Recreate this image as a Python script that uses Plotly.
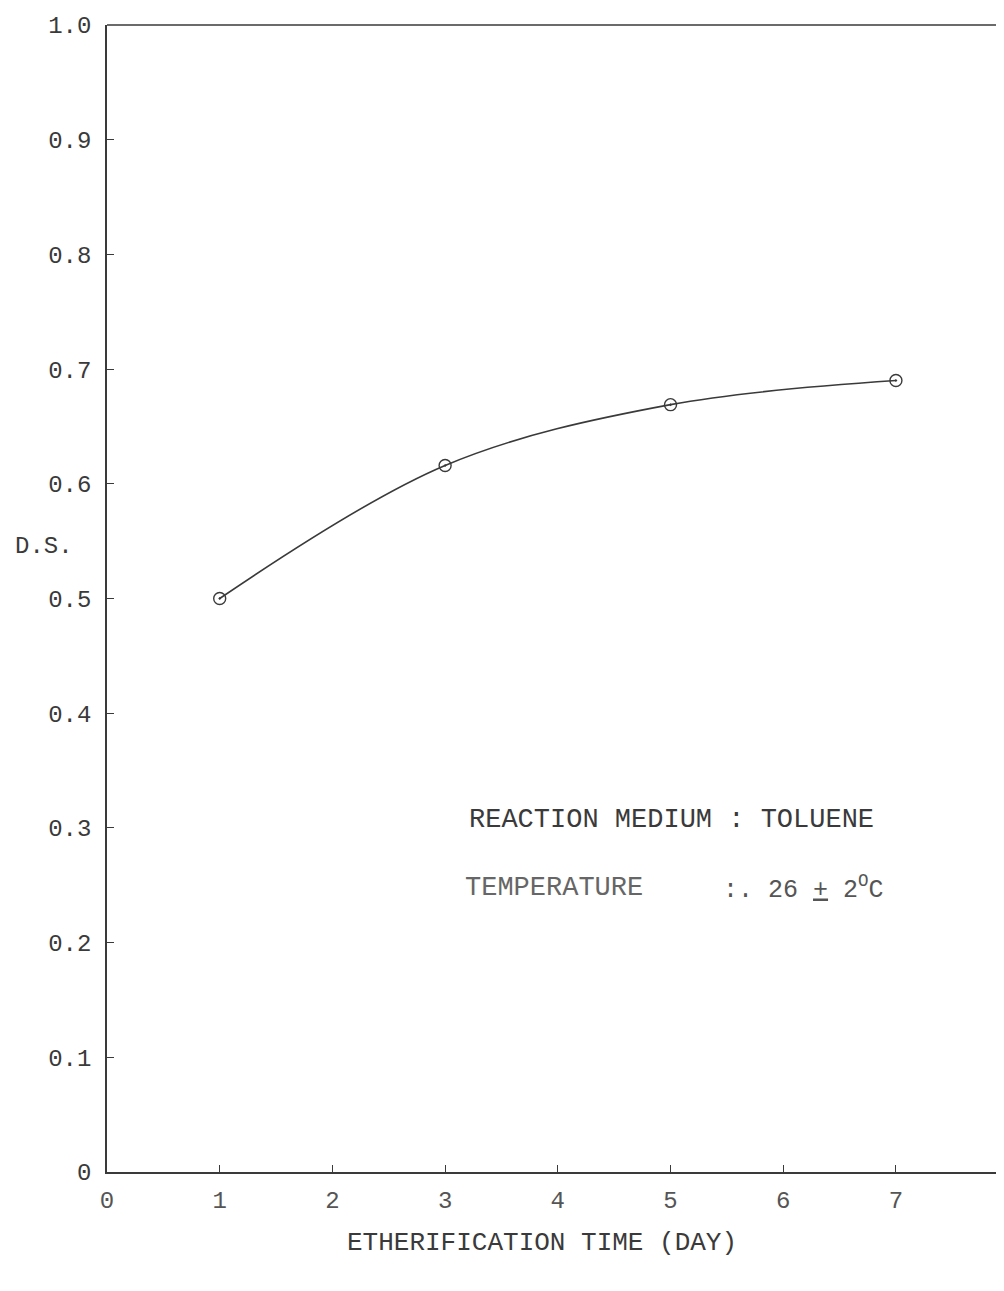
import plotly.graph_objects as go

days = [1, 3, 5, 7]
ds_values = [0.50, 0.616, 0.669, 0.690]

x_tickvals = [0, 1, 2, 3, 4, 5, 6, 7]
x_ticktext = ["0", "1", "2", "3", "4", "5", "6", "7"]
y_tickvals = [0, 0.1, 0.2, 0.3, 0.4, 0.5, 0.6, 0.7, 0.8, 0.9, 1.0]
y_ticktext = ["0", "0.1", "0.2", "0.3", "0.4", "0.5", "0.6", "0.7", "0.8", "0.9", "1.0"]

ink = "#3a3a3a"
mono = "Liberation Mono, Courier New, monospace"

fig = go.Figure()
fig.add_trace(go.Scatter(
    x=days, y=ds_values, mode="lines+markers",
    line=dict(color=ink, width=1.6, shape="spline", smoothing=1.0),
    marker=dict(symbol="circle-open-dot", size=12, color=ink, line=dict(width=1.4, color=ink)),
    showlegend=False,
))

fig.update_layout(
    width=996, height=1275,
    margin=dict(l=99, r=1, t=17, b=111),
    paper_bgcolor="white", plot_bgcolor="white",
    font=dict(family=mono, color=ink),
    xaxis=dict(range=[0, 7.95], tickvals=x_tickvals, ticktext=x_ticktext,
               showgrid=False, zeroline=False, showline=True, linecolor=ink, linewidth=1.5,
               ticks="inside", ticklen=7, tickcolor=ink, tickwidth=1,
               tickfont=dict(family=mono, size=24, color="#555"), ticklabelstandoff=5),
    yaxis=dict(range=[0, 1.0], tickvals=y_tickvals, ticktext=y_ticktext,
               showgrid=False, zeroline=False, showline=True, linecolor=ink, linewidth=1.5,
               ticks="inside", ticklen=7, tickcolor=ink, tickwidth=1,
               tickfont=dict(family=mono, size=24, color=ink), ticklabelstandoff=9),
)

# top border line
fig.add_shape(type="line", xref="paper", yref="paper", x0=0, x1=1, y0=1, y1=1,
              line=dict(color=ink, width=1.5))

fig.add_annotation(text="D.S.", xref="paper", yref="paper", x=-0.105, y=0.545,
                   xanchor="left", yanchor="middle", showarrow=False,
                   font=dict(family=mono, size=24, color=ink))
fig.add_annotation(text="ETHERIFICATION TIME (DAY)", xref="paper", yref="paper",
                   x=0.485, y=-0.062, xanchor="center", yanchor="middle", showarrow=False,
                   font=dict(family=mono, size=26, color=ink))
fig.add_annotation(text="REACTION MEDIUM : TOLUENE", xref="x", yref="y",
                   x=3.19, y=0.307, xanchor="left", yanchor="middle", showarrow=False,
                   font=dict(family=mono, size=27, color=ink))
fig.add_annotation(text="TEMPERATURE", xref="x", yref="y",
                   x=3.16, y=0.248, xanchor="left", yanchor="middle", showarrow=False,
                   font=dict(family=mono, size=27, color="#666"))
fig.add_annotation(text=":. 26 <u>+</u> 2<sup>O</sup>C", xref="x", yref="y",
                   x=5.45, y=0.248, xanchor="left", yanchor="middle", showarrow=False,
                   font=dict(family=mono, size=25, color="#555"))

fig.write_html("out.html")
